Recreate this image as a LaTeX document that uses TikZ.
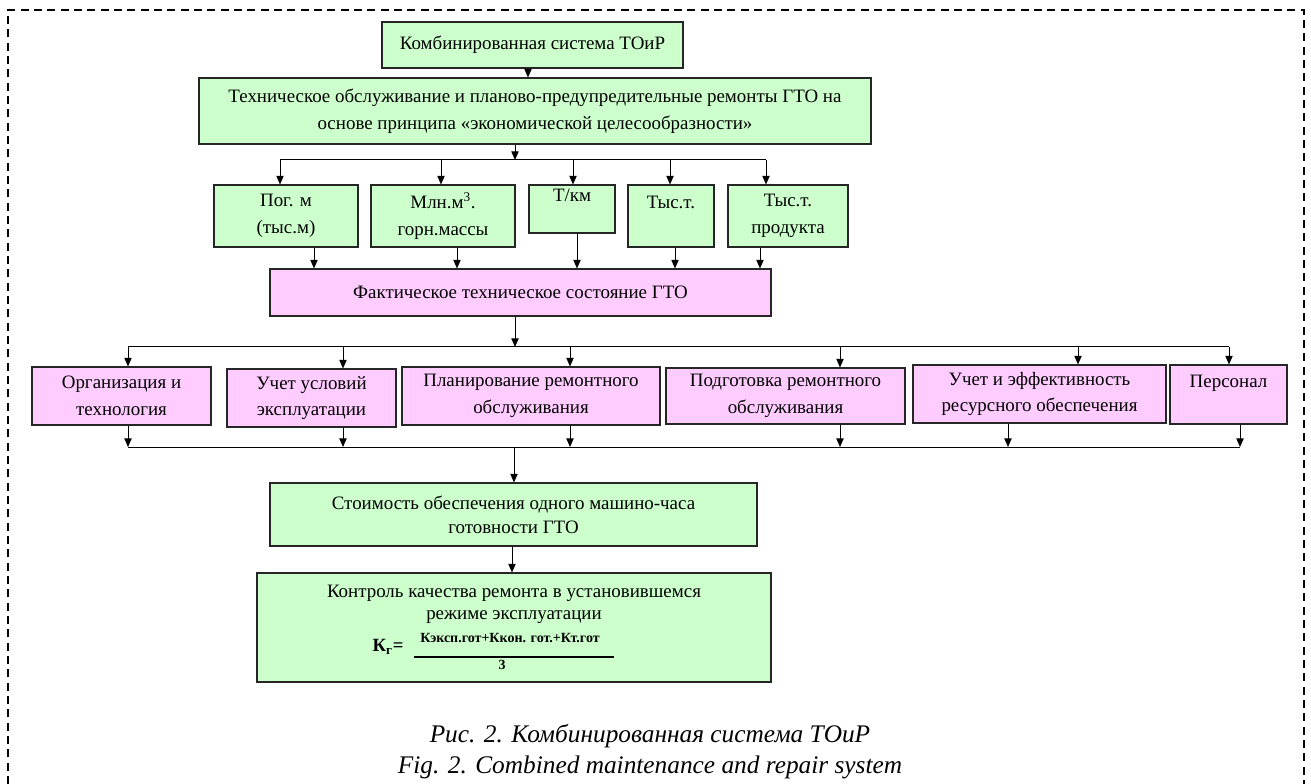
\documentclass[tikz,border=0pt]{standalone}
\usepackage{fontspec}
\setmainfont{Liberation Serif}
\usetikzlibrary{arrows.meta}
\definecolor{boxgreen}{HTML}{CCFFCC}
\definecolor{boxpink}{HTML}{FFCCFF}

\begin{document}
\begin{tikzpicture}[x=0.75pt, y=-0.75pt,
    box/.style={draw=black!85, line width=0.8pt, align=center, inner sep=0pt,
      font=\fontsize{14.2}{20}\selectfont},
    wh/.style 2 args={minimum width=#1*0.75pt, minimum height=#2*0.75pt},
    greenbox/.style={box, fill=boxgreen},
    pinkbox/.style={box, fill=boxpink},
    arr/.style={-{Triangle[length=6.5pt,width=5.5pt]}, line width=0.75pt},
    bus/.style={line width=0.75pt}]

    \useasboundingbox (0,0) rectangle (1311,784);

    % 虚线外框
    \draw[line width=1.1pt, dash pattern=on 6pt off 4pt] (8,784) -- (8,10) -- (1304,10) -- (1304,784);

    % 第一层
    \node[greenbox, wh={301}{46}] (top) at (532.5,45) {Комбинированная система ТОиР};
    \node[greenbox, wh={672}{66}] (tor) at (535,111) {Техническое обслуживание и планово-предупредительные ремонты ГТО на\\основе принципа «экономической целесообразности»};

    % 计量单位
    \node[greenbox, wh={144}{62}] (pog) at (286,216) {Пог. м\\(тыс.м)};
    \node[greenbox, wh={144}{62}] (mln) at (443,216) {Млн.м\textsuperscript{3}.\\горн.массы};
    \node[greenbox, wh={86}{48}] (tkm) at (572,209) {Т/км\\~};
    \node[greenbox, wh={86}{62}] (tys) at (671,216) {Тыс.т.\\~};
    \node[greenbox, wh={120}{62}] (prod) at (788,216) {Тыс.т.\\продукта};

    % 技术状态
    \node[pinkbox, wh={501}{47}] (fact) at (520.5,292.5) {Фактическое техническое состояние ГТО};

    % 六个因素
    \node[pinkbox, wh={179}{58}] (org) at (121.5,396) {Организация и\\технология};
    \node[pinkbox, wh={169}{58}] (usl) at (311.5,398) {Учет условий\\эксплуатации};
    \node[pinkbox, wh={258}{58}] (plan) at (531,396) {Планирование ремонтного\\обслуживания};
    \node[pinkbox, wh={239}{56}] (podg) at (785.5,396) {Подготовка ремонтного\\обслуживания};
    \node[pinkbox, wh={253}{58}] (res) at (1039.5,394) {Учет и эффективность\\ресурсного обеспечения};
    \node[pinkbox, wh={117}{59}] (pers) at (1228.5,394.5) {Персонал\\~};

    % 下部
    \node[greenbox, wh={487}{63}, font=\fontsize{14.2}{18}\selectfont] (cost) at (513.5,514.5) {Стоимость обеспечения одного машино-часа\\готовности ГТО};
    \node[greenbox, wh={514}{109}] (ctrl) at (514,627.5) {};
    \node[box, draw=none, font=\fontsize{14.2}{16.5}\selectfont] (ctrltxt) at (514,604) {Контроль качества ремонта в установившемся\\режиме эксплуатации};
    \node[font=\bfseries\fontsize{14}{15}\selectfont] (kg) at (388,647) {К\textsubscript{г}=};
    \node[font=\bfseries\fontsize{10.5}{11}\selectfont] (num) at (510,638) {Кэксп.гот+Ккон. гот.+Кт.гот};
    \draw[line width=0.9pt] (414,657) -- (614,657);
    \node[font=\bfseries\fontsize{10.5}{11}\selectfont] (den) at (502,665) {3};

    % 图题
    \node[font=\itshape\fontsize{19}{22}\selectfont] (cap1) at (650,736) {Рис. 2. Комбинированная система ТОиР};
    \node[font=\itshape\fontsize{19}{22}\selectfont] (cap2) at (650,767) {Fig. 2. Combined maintenance and repair system};

    % 分支线的坐标
    \coordinate (a0) at (528,0);
    \coordinate (b1) at (515,160);
    \coordinate (t1) at (280,160);
    \coordinate (t2) at (441,160);
    \coordinate (t3) at (573,160);
    \coordinate (t4) at (670,160);
    \coordinate (t5) at (766,160);
    \coordinate (u1) at (314,0);
    \coordinate (u2) at (457,0);
    \coordinate (u3) at (577,0);
    \coordinate (u4) at (675,0);
    \coordinate (u5) at (760,0);
    \coordinate (b2) at (515,347);
    \coordinate (v1) at (128,347);
    \coordinate (v2) at (343,347);
    \coordinate (v3) at (570,347);
    \coordinate (v4) at (840,347);
    \coordinate (v5) at (1078,347);
    \coordinate (v6) at (1229,347);
    \coordinate (b3) at (514,447);
    \coordinate (w1) at (128,447);
    \coordinate (w2) at (343,447);
    \coordinate (w3) at (570,447);
    \coordinate (w4) at (840,447);
    \coordinate (w5) at (1008,447);
    \coordinate (w6) at (1240,447);
    \coordinate (c0) at (512,0);

    % 箭头
    \draw[arr] (top.south -| a0) -- (tor.north -| a0);
    \draw[arr] (tor.south -| b1) -- (b1);
    \draw[bus] (t1) -- (t5);
    \draw[arr] (t1) -- (t1 |- pog.north);
    \draw[arr] (t2) -- (t2 |- mln.north);
    \draw[arr] (t3) -- (t3 |- tkm.north);
    \draw[arr] (t4) -- (t4 |- tys.north);
    \draw[arr] (t5) -- (t5 |- prod.north);
    \draw[arr] (pog.south -| u1) -- (fact.north -| u1);
    \draw[arr] (mln.south -| u2) -- (fact.north -| u2);
    \draw[arr] (tkm.south -| u3) -- (fact.north -| u3);
    \draw[arr] (tys.south -| u4) -- (fact.north -| u4);
    \draw[arr] (prod.south -| u5) -- (fact.north -| u5);
    \draw[arr] (fact.south -| b2) -- (b2);
    \draw[bus] (v1) -- (v6);
    \draw[arr] (v1) -- (v1 |- org.north);
    \draw[arr] (v2) -- (v2 |- usl.north);
    \draw[arr] (v3) -- (v3 |- plan.north);
    \draw[arr] (v4) -- (v4 |- podg.north);
    \draw[arr] (v5) -- (v5 |- res.north);
    \draw[arr] (v6) -- (v6 |- pers.north);
    \draw[arr] (org.south -| w1) -- (w1);
    \draw[arr] (usl.south -| w2) -- (w2);
    \draw[arr] (plan.south -| w3) -- (w3);
    \draw[arr] (podg.south -| w4) -- (w4);
    \draw[arr] (res.south -| w5) -- (w5);
    \draw[arr] (pers.south -| w6) -- (w6);
    \draw[bus] (w1) -- (w6);
    \draw[arr] (b3) -- (b3 |- cost.north);
    \draw[arr] (cost.south -| c0) -- (ctrl.north -| c0);

\end{tikzpicture}
\end{document}
